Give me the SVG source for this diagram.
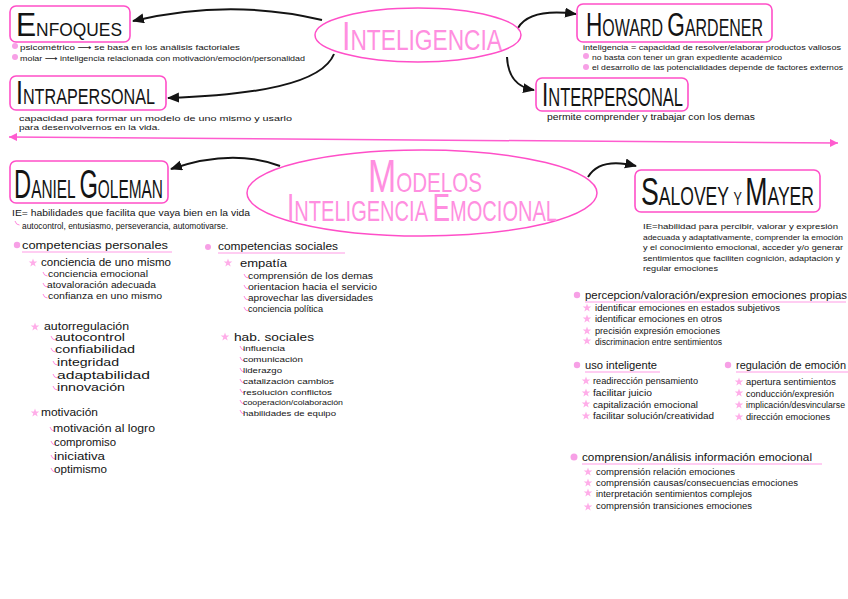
<svg xmlns="http://www.w3.org/2000/svg" width="848" height="599" viewBox="0 0 848 599">
<style>
.bg{fill:#ffffff}
.box{fill:none;stroke:#ff4fc8;stroke-width:1.6}
.ell{fill:none;stroke:#ff4fc8;stroke-width:1.5}
.t{font-family:"Liberation Sans","DejaVu Sans",Arial,sans-serif;fill:#141414}
.ti{font-family:"Liberation Sans","DejaVu Sans",Arial,sans-serif;fill:#141414;font-weight:normal}
.pt{font-family:"Liberation Sans","DejaVu Sans",Arial,sans-serif;fill:#ff8fe0}
.s{font-size:8.5px}
.xs{font-size:7.8px}
.m{font-size:10px}
.h{font-size:11px}
.arr{fill:none;stroke:#141414;stroke-width:2;marker-end:url(#ah)}
.div{fill:none;stroke:#ff5ccf;stroke-width:1.5;marker-start:url(#pa0);marker-end:url(#pa1)}
.ul{stroke:#ff9be6;stroke-width:1.2;fill:none}
.dot{fill:#f7a0e6}
.star{fill:#ffaee9}
.hook{fill:none;stroke:#ff8ade;stroke-width:1}
</style>
<defs>
<marker id="ah" markerUnits="userSpaceOnUse" markerWidth="13" markerHeight="11" refX="11" refY="5" orient="auto">
<path d="M0,0 L12,5 L0,10 Z" fill="#141414"/>
</marker>
<marker id="pa1" markerUnits="userSpaceOnUse" markerWidth="9" markerHeight="8" refX="8" refY="4" orient="auto">
<path d="M0,0 L8,4 L0,8 Z" fill="#ff5ccf"/>
</marker>
<marker id="pa0" markerUnits="userSpaceOnUse" markerWidth="9" markerHeight="8" refX="0" refY="4" orient="auto">
<path d="M8,0 L0,4 L8,8 Z" fill="#ff5ccf"/>
</marker>
<symbol id="star" viewBox="-5 -5 10 10" width="10" height="10" overflow="visible">
<polygon class="star" points="0,-4.5 1.1,-1.4 4.3,-1.4 1.7,0.5 2.7,3.6 0,1.7 -2.7,3.6 -1.7,0.5 -4.3,-1.4 -1.1,-1.4"/>
</symbol>
<symbol id="hook" viewBox="-3 -5 6 6" width="6" height="6" overflow="visible">
<path class="hook" d="M-2,-4 Q-1,0 2.5,0"/>
</symbol>
</defs>
<rect class="bg" x="0" y="0" width="848" height="599"/>

<g id="connectors">
<path class="arr" d="M322 20 Q230 -2 133 21"/>
<path class="arr" d="M334 54 C322 84 255 95 168 98"/>
<path class="arr" d="M518 28 Q530 8 576 14"/>
<path class="arr" d="M507 57 C508 76 516 87 534 90"/>
<path class="arr" d="M280 166 Q232 148 171 169"/>
<path class="arr" d="M588 177 Q600 157 636 166"/>
<path class="div" d="M9 137 L838 143"/>
</g>

<g id="inteligencia">
<ellipse class="ell" cx="418" cy="35" rx="103" ry="27"/>
<text class="pt" x="342" y="50" textLength="160" lengthAdjust="spacingAndGlyphs"><tspan font-size="40">I</tspan><tspan font-size="30">NTELIGENCIA</tspan></text>
</g>

<g id="enfoques">
<rect class="box" x="10" y="6" width="120" height="36" rx="6"/>
<text class="ti" x="16" y="36" textLength="106" lengthAdjust="spacingAndGlyphs"><tspan font-size="33">E</tspan><tspan font-size="19">NFOQUES</tspan></text>
<circle class="dot" cx="15" cy="46" r="3"/>
<text class="t xs" x="20" y="50" textLength="220" lengthAdjust="spacingAndGlyphs">psicométrico ⟶ se basa en los análisis factoriales</text>
<circle class="dot" cx="15" cy="57" r="3"/>
<text class="t xs" x="20" y="61" textLength="285" lengthAdjust="spacingAndGlyphs">molar ⟶ inteligencia relacionada con motivación/emoción/personalidad</text>
</g>

<g id="intrapersonal">
<rect class="box" x="10" y="76" width="156" height="34" rx="6"/>
<text class="ti" x="16" y="104" textLength="139" lengthAdjust="spacingAndGlyphs"><tspan font-size="34">I</tspan><tspan font-size="22">NTRAPERSONAL</tspan></text>
<text class="t xs" x="19" y="121" textLength="273" lengthAdjust="spacingAndGlyphs">capacidad para formar un modelo de uno mismo y usarlo</text>
<text class="t xs" x="19" y="130" textLength="141" lengthAdjust="spacingAndGlyphs">para desenvolvernos en la vida.</text>
</g>

<g id="howard-gardener">
<rect class="box" x="577" y="4" width="195" height="38" rx="6"/>
<text class="ti" x="586" y="36" textLength="177" lengthAdjust="spacingAndGlyphs"><tspan font-size="34">H</tspan><tspan font-size="24">OWARD </tspan><tspan font-size="34">G</tspan><tspan font-size="24">ARDENER</tspan></text>
<text class="t xs" x="583" y="50" textLength="258" lengthAdjust="spacingAndGlyphs">inteligencia = capacidad de resolver/elaborar productos valiosos</text>
<circle class="dot" cx="586" cy="56" r="3"/>
<text class="t xs" x="592" y="59.5" textLength="190" lengthAdjust="spacingAndGlyphs">no basta con tener un gran expediente académico</text>
<circle class="dot" cx="586" cy="67" r="3"/>
<text class="t xs" x="592" y="70" textLength="251" lengthAdjust="spacingAndGlyphs">el desarrollo de las potencialidades depende de factores externos</text>
</g>

<g id="interpersonal">
<rect class="box" x="536" y="78" width="152" height="33" rx="6"/>
<text class="ti" x="542" y="106" textLength="141" lengthAdjust="spacingAndGlyphs"><tspan font-size="34">I</tspan><tspan font-size="25">NTERPERSONAL</tspan></text>
<text class="t s" x="547" y="120" textLength="208" lengthAdjust="spacingAndGlyphs">permite comprender y trabajar con los demas</text>
</g>

<g id="modelos">
<ellipse class="ell" cx="422" cy="193" rx="175" ry="43"/>
<text class="pt" x="368" y="192" textLength="114" lengthAdjust="spacingAndGlyphs"><tspan font-size="46">M</tspan><tspan font-size="28">ODELOS</tspan></text>
<text class="pt" x="287" y="221" textLength="270" lengthAdjust="spacingAndGlyphs"><tspan font-size="38">I</tspan><tspan font-size="29">NTELIGENCIA </tspan><tspan font-size="38">E</tspan><tspan font-size="29">MOCIONAL</tspan></text>
</g>

<g id="daniel-goleman">
<rect class="box" x="10" y="161" width="158" height="42" rx="6"/>
<text class="ti" x="14" y="198" textLength="149" lengthAdjust="spacingAndGlyphs"><tspan font-size="40">D</tspan><tspan font-size="26">ANIEL </tspan><tspan font-size="40">G</tspan><tspan font-size="26">OLEMAN</tspan></text>
<text class="t s" x="12" y="216" textLength="238" lengthAdjust="spacingAndGlyphs">IE= habilidades que facilita que vaya bien en la vida</text>
<use href="#hook" x="14" y="220"/>
<text class="t s" x="22" y="229" textLength="206" lengthAdjust="spacingAndGlyphs">autocontrol, entusiasmo, perseverancia, automotivarse.</text>
</g>

<g id="salovey-mayer">
<rect class="box" x="635" y="170" width="185" height="42" rx="6"/>
<text class="ti" x="641" y="205" textLength="173" lengthAdjust="spacingAndGlyphs"><tspan font-size="38">S</tspan><tspan font-size="25">ALOVEY </tspan><tspan font-size="18">Y </tspan><tspan font-size="38">M</tspan><tspan font-size="25">AYER</tspan></text>
<text class="t xs" x="643" y="229" textLength="195" lengthAdjust="spacingAndGlyphs">IE=habilidad para percibir, valorar y expresión</text>
<text class="t xs" x="643" y="239.5" textLength="200" lengthAdjust="spacingAndGlyphs">adecuada y adaptativamente, comprender la emoción</text>
<text class="t xs" x="643" y="250" textLength="200" lengthAdjust="spacingAndGlyphs">y el conocimiento emocional, acceder y/o generar</text>
<text class="t xs" x="643" y="260.5" textLength="197" lengthAdjust="spacingAndGlyphs">sentimientos que faciliten cognición, adaptación y</text>
<text class="t xs" x="643" y="271" textLength="75" lengthAdjust="spacingAndGlyphs">regular emociones</text>
</g>

<g id="competencias-personales">
<circle class="dot" cx="17" cy="245" r="3.2"/>
<text class="t h" x="22" y="249" textLength="146" lengthAdjust="spacingAndGlyphs">competencias personales</text>
<line class="ul" x1="22" y1="252" x2="172" y2="252"/>
<use href="#star" x="28" y="258"/>
<text class="t m" x="41" y="266" textLength="130" lengthAdjust="spacingAndGlyphs">conciencia de uno mismo</text>
<use href="#hook" x="42" y="271"/>
<text class="t s" x="48" y="277" textLength="100" lengthAdjust="spacingAndGlyphs">conciencia emocional</text>
<use href="#hook" x="42" y="282"/>
<text class="t s" x="47" y="288" textLength="109" lengthAdjust="spacingAndGlyphs">atovaloración adecuada</text>
<use href="#hook" x="42" y="293"/>
<text class="t s" x="48" y="299" textLength="114" lengthAdjust="spacingAndGlyphs">confianza en uno mismo</text>
<use href="#star" x="30" y="322"/>
<text class="t m" x="44" y="330" textLength="85" lengthAdjust="spacingAndGlyphs">autorregulación</text>
<use href="#hook" x="50" y="335"/>
<text class="t m" x="55" y="341" textLength="70" lengthAdjust="spacingAndGlyphs">autocontrol</text>
<use href="#hook" x="50" y="347"/>
<text class="t m" x="55" y="353" textLength="80" lengthAdjust="spacingAndGlyphs">confiabilidad</text>
<use href="#hook" x="52" y="360"/>
<text class="t m" x="57" y="366" textLength="62" lengthAdjust="spacingAndGlyphs">integridad</text>
<use href="#hook" x="52" y="373"/>
<text class="t m" x="57" y="379" textLength="93" lengthAdjust="spacingAndGlyphs">adaptabilidad</text>
<use href="#hook" x="52" y="385"/>
<text class="t m" x="57" y="391" textLength="68" lengthAdjust="spacingAndGlyphs">innovación</text>
<use href="#star" x="30" y="408"/>
<text class="t m" x="41" y="416" textLength="57" lengthAdjust="spacingAndGlyphs">motivación</text>
<use href="#hook" x="49" y="426"/>
<text class="t h" x="53" y="432" textLength="102" lengthAdjust="spacingAndGlyphs">motivación al logro</text>
<use href="#hook" x="50" y="440"/>
<text class="t h" x="54" y="446" textLength="62" lengthAdjust="spacingAndGlyphs">compromiso</text>
<use href="#hook" x="50" y="454"/>
<text class="t h" x="54" y="460" textLength="51" lengthAdjust="spacingAndGlyphs">iniciativa</text>
<use href="#hook" x="50" y="467"/>
<text class="t h" x="54" y="473" textLength="53" lengthAdjust="spacingAndGlyphs">optimismo</text>
</g>

<g id="competencias-sociales">
<circle class="dot" cx="208" cy="247" r="3"/>
<text class="t h" x="218" y="250" textLength="120" lengthAdjust="spacingAndGlyphs">competencias sociales</text>
<line class="ul" x1="218" y1="253" x2="345" y2="253"/>
<use href="#star" x="223" y="258"/>
<text class="t h" x="240" y="267" textLength="47" lengthAdjust="spacingAndGlyphs">empatía</text>
<use href="#hook" x="243" y="273"/>
<text class="t s" x="248" y="279" textLength="125" lengthAdjust="spacingAndGlyphs">comprensión de los demas</text>
<use href="#hook" x="243" y="284"/>
<text class="t s" x="248" y="290" textLength="129" lengthAdjust="spacingAndGlyphs">orientacion hacia el servicio</text>
<use href="#hook" x="243" y="295"/>
<text class="t s" x="248" y="301" textLength="125" lengthAdjust="spacingAndGlyphs">aprovechar las diversidades</text>
<use href="#hook" x="243" y="306"/>
<text class="t s" x="248" y="312" textLength="75" lengthAdjust="spacingAndGlyphs">conciencia política</text>
<use href="#star" x="220" y="332"/>
<text class="t h" x="234" y="341" textLength="80" lengthAdjust="spacingAndGlyphs">hab. sociales</text>
<use href="#hook" x="239" y="345"/>
<text class="t xs" x="243" y="351" textLength="42" lengthAdjust="spacingAndGlyphs">influencia</text>
<use href="#hook" x="239" y="356"/>
<text class="t xs" x="243" y="362" textLength="60" lengthAdjust="spacingAndGlyphs">comunicación</text>
<use href="#hook" x="239" y="367"/>
<text class="t xs" x="243" y="373" textLength="39" lengthAdjust="spacingAndGlyphs">liderazgo</text>
<use href="#hook" x="239" y="378"/>
<text class="t xs" x="243" y="384" textLength="91" lengthAdjust="spacingAndGlyphs">catalización cambios</text>
<use href="#hook" x="239" y="388"/>
<text class="t xs" x="243" y="394.5" textLength="89" lengthAdjust="spacingAndGlyphs">resolución conflictos</text>
<use href="#hook" x="239" y="399"/>
<text class="t xs" x="243" y="405" textLength="100" lengthAdjust="spacingAndGlyphs">cooperación/colaboración</text>
<use href="#hook" x="239" y="409"/>
<text class="t xs" x="243" y="415.5" textLength="93" lengthAdjust="spacingAndGlyphs">habilidades de equipo</text>
</g>

<g id="percepcion">
<circle class="dot" cx="577" cy="295" r="3.2"/>
<text class="t h" x="585" y="299" textLength="262" lengthAdjust="spacingAndGlyphs">percepcion/valoración/expresion emociones propias</text>
<line class="ul" x1="585" y1="302" x2="846" y2="302"/>
<use href="#star" x="582" y="303"/>
<text class="t s" x="595" y="311" textLength="185" lengthAdjust="spacingAndGlyphs">identificar emociones en estados subjetivos</text>
<use href="#star" x="582" y="314"/>
<text class="t s" x="595" y="322" textLength="127" lengthAdjust="spacingAndGlyphs">identificar emociones en otros</text>
<use href="#star" x="582" y="326"/>
<text class="t s" x="595" y="334" textLength="125" lengthAdjust="spacingAndGlyphs">precisión expresión emociones</text>
<use href="#star" x="582" y="336"/>
<text class="t s" x="595" y="344.5" textLength="127" lengthAdjust="spacingAndGlyphs">discriminacion entre sentimientos</text>
</g>

<g id="uso-inteligente">
<circle class="dot" cx="577" cy="365" r="3.2"/>
<text class="t h" x="585" y="369" textLength="72" lengthAdjust="spacingAndGlyphs">uso inteligente</text>
<line class="ul" x1="585" y1="372" x2="660" y2="372"/>
<use href="#star" x="581" y="376"/>
<text class="t s" x="593" y="384" textLength="105" lengthAdjust="spacingAndGlyphs">readirección pensamiento</text>
<use href="#star" x="581" y="388"/>
<text class="t s" x="593" y="396" textLength="59" lengthAdjust="spacingAndGlyphs">facilitar juicio</text>
<use href="#star" x="581" y="399"/>
<text class="t s" x="593" y="407.5" textLength="105" lengthAdjust="spacingAndGlyphs">capitalización emocional</text>
<use href="#star" x="581" y="411"/>
<text class="t s" x="593" y="419" textLength="121" lengthAdjust="spacingAndGlyphs">facilitar solución/creatividad</text>
</g>

<g id="regulacion">
<circle class="dot" cx="728" cy="365" r="3.2"/>
<text class="t h" x="736" y="369" textLength="110" lengthAdjust="spacingAndGlyphs">regulación de emoción</text>
<line class="ul" x1="736" y1="372" x2="848" y2="372"/>
<use href="#star" x="734" y="377"/>
<text class="t s" x="746" y="385" textLength="90" lengthAdjust="spacingAndGlyphs">apertura sentimientos</text>
<use href="#star" x="734" y="388"/>
<text class="t s" x="746" y="396.5" textLength="88" lengthAdjust="spacingAndGlyphs">conducción/expresión</text>
<use href="#star" x="734" y="400"/>
<text class="t s" x="746" y="408" textLength="99" lengthAdjust="spacingAndGlyphs">implicación/desvincularse</text>
<use href="#star" x="734" y="412"/>
<text class="t s" x="746" y="420" textLength="84" lengthAdjust="spacingAndGlyphs">dirección emociones</text>
</g>

<g id="comprension">
<circle class="dot" cx="574" cy="457" r="3.5"/>
<text class="t h" x="582" y="461" textLength="230" lengthAdjust="spacingAndGlyphs">comprension/análisis información emocional</text>
<line class="ul" x1="582" y1="464" x2="822" y2="464"/>
<use href="#star" x="583" y="467"/>
<text class="t s" x="596" y="475" textLength="139" lengthAdjust="spacingAndGlyphs">comprensión relación emociones</text>
<use href="#star" x="583" y="478"/>
<text class="t s" x="596" y="486" textLength="202" lengthAdjust="spacingAndGlyphs">comprensión causas/consecuencias emociones</text>
<use href="#star" x="583" y="488"/>
<text class="t s" x="596" y="496.5" textLength="156" lengthAdjust="spacingAndGlyphs">interpretación sentimientos complejos</text>
<use href="#star" x="583" y="502"/>
<text class="t s" x="596" y="509" textLength="156" lengthAdjust="spacingAndGlyphs">comprensión transiciones emociones</text>
</g>
</svg>
